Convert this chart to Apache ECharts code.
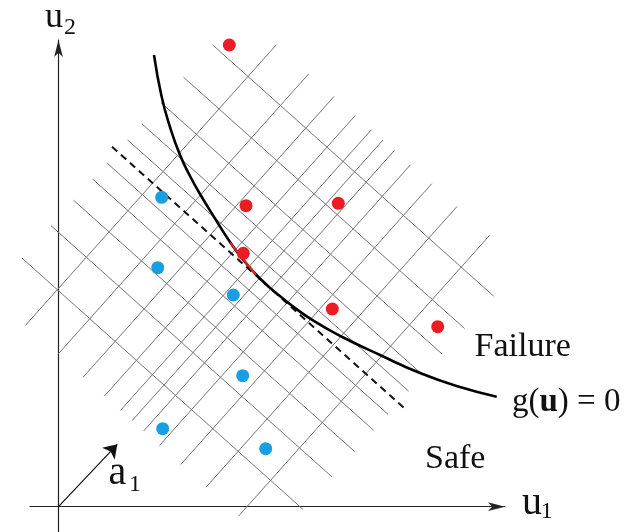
<!DOCTYPE html>
<html><head><meta charset="utf-8">
<script src="https://cdn.jsdelivr.net/npm/echarts@6/dist/echarts.min.js"></script>
<style>html,body{margin:0;padding:0;background:#fff}#c{width:634px;height:532px}</style>
</head><body><div id="c"></div>
<script>
// ---- data (u-space) ----
const a1AngleDeg = 48.2;            // direction of a1 (grid orientation)
const beta = 3.04;                  // grid centre along a1 (dashed tangent line)
const gridCenterQ = -0.025;         // grid centre across a1
const levelOffsets = [-1.43, -0.995, -0.655, -0.37, -0.155, 0.155, 0.37, 0.655, 0.995, 1.43];   // lines across a1
const crossOffsets = [-1.43, -0.995, -0.655, -0.37, -0.155, 0, 0.155, 0.37, 0.655, 0.995, 1.43]; // lines along a1
const alongRange = [1.13, 4.895];   // extent of lines parallel to a1
const acrossRange = [-1.93, 1.84];  // extent of lines perpendicular to a1
const dashedRange = [-2.0, 1.95];
const limitU1 = [0.955, 1.030, 1.115, 1.215, 1.315, 1.415, 1.565, 1.715, 1.865, 2.025, 2.165, 2.332, 2.565, 2.848, 3.215, 3.615, 4.015, 4.382];
const limitU2 = [4.517, 4.107, 3.797, 3.517, 3.307, 3.127, 2.882, 2.647, 2.447, 2.272, 2.147, 2.012, 1.850, 1.692, 1.517, 1.337, 1.197, 1.100];
const redSegU1 = [1.715, 1.975];
const redSegU2 = [2.640, 2.317];
const failU1 = [1.708, 1.875, 2.798, 1.848, 2.738, 3.792];
const failU2 = [4.617, 3.010, 3.034, 2.534, 1.977, 1.800];
const safeU1 = [1.032, 0.992, 1.748, 1.842, 1.042, 2.072];
const safeU2 = [3.094, 2.390, 2.117, 1.310, 0.780, 0.580];
const a1Tip = [0.588, 0.624];

// ---- build ----
const th = a1AngleDeg * Math.PI / 180, c = Math.cos(th), s = Math.sin(th);
const toU = (p, q) => [p * c + q * s, p * s - q * c];
const famA = levelOffsets.map(o => ({coords: [toU(beta + o, acrossRange[0]), toU(beta + o, acrossRange[1])]}));
const famB = crossOffsets.map(o => ({coords: [toU(alongRange[0], gridCenterQ + o), toU(alongRange[1], gridCenterQ + o)]}));
const zip = (a, b) => a.map((v, i) => [v, b[i]]);
const gridStyle = {color: '#747474', width: 1, opacity: 1};
const serif = "'Liberation Serif', 'Times New Roman', serif";
const axisStyle = {color: '#222', width: 1.2};

const chart = echarts.init(document.getElementById('c'), null, {renderer: 'canvas'});
chart.setOption({
  animation: false,
  backgroundColor: '#fff',
  grid: {left: 30, right: 129, top: 40, bottom: 0},
  xAxis: {type: 'value', min: -0.285, max: 4.465,
    axisLine: {show: true, onZero: true, symbol: ['none', 'arrow'], symbolSize: [6.5, 17], lineStyle: axisStyle},
    axisTick: {show: false}, axisLabel: {show: false}, splitLine: {show: false}},
  yAxis: {type: 'value', min: -0.253, max: 4.667,
    axisLine: {show: true, onZero: true, symbol: ['none', 'arrow'], symbolSize: [6.5, 17], lineStyle: axisStyle},
    axisTick: {show: false}, axisLabel: {show: false}, splitLine: {show: false}},
  series: [
    {type: 'lines', coordinateSystem: 'cartesian2d', clip: false, silent: true, z: 1,
     lineStyle: gridStyle, data: famA},
    {type: 'lines', coordinateSystem: 'cartesian2d', clip: false, silent: true, z: 1,
     lineStyle: gridStyle, data: famB},
    {type: 'lines', coordinateSystem: 'cartesian2d', clip: false, silent: true, z: 2,
     lineStyle: {color: '#111', width: 2, type: [7, 5], opacity: 1},
     data: [{coords: [toU(beta, dashedRange[0]), toU(beta, dashedRange[1])]}]},
    {type: 'line', clip: false, silent: true, z: 3, showSymbol: false, smooth: 0.5,
     lineStyle: {color: '#000', width: 2.6}, data: zip(limitU1, limitU2)},
    {type: 'line', clip: false, silent: true, z: 4, showSymbol: false,
     lineStyle: {color: '#e8202a', width: 2}, data: zip(redSegU1, redSegU2)},
    {type: 'lines', coordinateSystem: 'cartesian2d', clip: false, silent: true, z: 4,
     symbol: ['none', 'arrow'], symbolSize: [6, 13],
     lineStyle: {color: '#111', width: 1.2, opacity: 1},
     data: [{coords: [[0, 0], a1Tip]}]},
    {type: 'scatter', clip: false, silent: true, z: 5, symbolSize: 13,
     itemStyle: {color: '#ec1c24', opacity: 1}, data: zip(failU1, failU2)},
    {type: 'scatter', clip: false, silent: true, z: 5, symbolSize: 13,
     itemStyle: {color: '#179fe1', opacity: 1}, data: zip(safeU1, safeU2)}
  ],
  graphic: [
    {type: 'text', silent: true, style: {text: 'u', x: 45, y: 18, font: '36px ' + serif, fill: '#111', align: 'left', verticalAlign: 'middle'}},
    {type: 'text', silent: true, style: {text: '2', x: 64, y: 28, font: '24px ' + serif, fill: '#111', align: 'left', verticalAlign: 'middle'}},
    {type: 'text', silent: true, style: {text: 'u', x: 522, y: 503.2, font: '40px ' + serif, fill: '#111', align: 'left', verticalAlign: 'middle'}},
    {type: 'text', silent: true, style: {text: '1', x: 540.7, y: 511.9, font: '24px ' + serif, fill: '#111', align: 'left', verticalAlign: 'middle'}},
    {type: 'text', silent: true, style: {text: 'a', x: 108.5, y: 473.2, font: '40px ' + serif, fill: '#111', align: 'left', verticalAlign: 'middle'}},
    {type: 'text', silent: true, style: {text: '1', x: 129, y: 485.2, font: '24px ' + serif, fill: '#111', align: 'left', verticalAlign: 'middle'}},
    {type: 'text', silent: true, style: {text: 'Failure', x: 474.5, y: 346.8, font: '34px ' + serif, fill: '#111', align: 'left', verticalAlign: 'middle'}},
    {type: 'text', silent: true, style: {text: 'Safe', x: 425, y: 459.5, font: '34px ' + serif, fill: '#111', align: 'left', verticalAlign: 'middle'}},
    {type: 'text', silent: true, style: {text: '{n|g(}{b|u}{n|) = 0}', x: 512, y: 402.5, align: 'left', verticalAlign: 'middle', fill: '#111',
      rich: {n: {font: '33px ' + serif, fill: '#111'}, b: {font: 'bold 33px ' + serif, fill: '#111'}}}}
  ]
});
</script></body></html>
